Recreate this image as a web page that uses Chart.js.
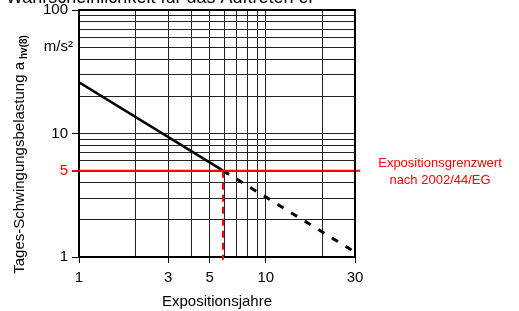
<!DOCTYPE html>
<html>
<head>
<meta charset="utf-8">
<script src="https://cdn.jsdelivr.net/npm/chart.js@4/dist/chart.umd.min.js"></script>
<style>
  html, body { margin: 0; padding: 0; background: #fff; }
  #wrap { width: 519px; height: 311px; }
</style>
</head>
<body>
<div id="wrap"><canvas id="c" width="519" height="311"></canvas></div>
<script>
// Werte
const yearsSolid = [1, 5.9];
const loadSolid = [26, 5];
const yearsDashed = [5.9, 29];
const loadDashed = [5, 1.13];
const limitValue = 5;
const limitYear = 5.9;
const limitLineYears = [1, 32];

const xGridValues = [1, 2, 3, 4, 5, 6, 7, 8, 9, 10, 20, 30];
const yGridValues = [1, 2, 3, 4, 5, 6, 7, 8, 9, 10, 20, 30, 40, 50, 60, 70, 80, 90, 100];
const xTickLabels = [1, 3, 5, 10, 30];
const yTickLabels = [1, 5, 10, 100];

const FONT = 'Liberation Sans, Arial, sans-serif';
const RED = '#ff0000';

const toPoints = (xs, ys) => xs.map((x, i) => ({ x, y: ys[i] }));

// Texte außerhalb der Achsen
const extraText = {
  id: 'extraText',
  afterDraw(chart) {
    const { ctx, chartArea } = chart;
    ctx.save();
    // Rahmen oben/rechts
    ctx.strokeStyle = '#000';
    ctx.lineWidth = 2;
    ctx.beginPath();
    ctx.moveTo(chartArea.left, chartArea.top);
    ctx.lineTo(chartArea.right, chartArea.top);
    ctx.lineTo(chartArea.right, chartArea.bottom);
    ctx.stroke();

    // abgeschnittener Titel
    ctx.fillStyle = '#000';
    ctx.font = '18px ' + FONT;
    ctx.textAlign = 'left';
    ctx.textBaseline = 'alphabetic';
    ctx.fillText('Wahrscheinlichkeit für das Auftreten ei', 6, 3);

    // Einheit
    ctx.font = '15px ' + FONT;
    ctx.textAlign = 'right';
    ctx.textBaseline = 'middle';
    ctx.fillText('m/s\u00b2', 73, 47);

    // Achsentitel y
    ctx.save();
    ctx.translate(20, 155);
    ctx.rotate(-Math.PI / 2);
    const main = 'Tages-Schwingungsbelastung a';
    const sub = 'hv(8)';
    ctx.font = '15px ' + FONT;
    const w1 = ctx.measureText(main).width + 3;
    ctx.font = '10px ' + FONT;
    const w2 = ctx.measureText(sub).width;
    const start = -(w1 + w2) / 2;
    ctx.textAlign = 'left';
    ctx.textBaseline = 'middle';
    ctx.font = '15px ' + FONT;
    ctx.fillText(main, start, 0);
    ctx.font = 'bold 10px ' + FONT;
    ctx.fillText(sub, start + w1, 4);
    ctx.restore();

    // Grenzwert-Beschriftung
    ctx.fillStyle = RED;
    ctx.font = '13px ' + FONT;
    ctx.textAlign = 'center';
    ctx.fillText('Expositionsgrenzwert', 440, 163);
    ctx.fillText('nach 2002/44/EG', 440, 180);
    ctx.restore();
  }
};

new Chart(document.getElementById('c'), {
  type: 'scatter',
  data: {
    datasets: [
      {
        data: toPoints(limitLineYears, limitLineYears.map(() => limitValue)),
        showLine: true,
        borderColor: RED,
        borderWidth: 2,
        pointRadius: 0,
        clip: false
      },
      {
        data: toPoints([limitYear, limitYear], [limitValue, 0.95]),
        showLine: true,
        borderColor: RED,
        borderWidth: 2,
        borderDash: [7, 5],
        pointRadius: 0,
        clip: false
      },
      {
        data: toPoints(yearsSolid, loadSolid),
        showLine: true,
        borderColor: '#000',
        borderWidth: 2.5,
        pointRadius: 0
      },
      {
        data: toPoints(yearsDashed, loadDashed),
        showLine: true,
        borderColor: '#000',
        borderWidth: 3,
        borderDash: [7, 9],
        pointRadius: 0
      }
    ]
  },
  options: {
    responsive: false,
    animation: false,
    layout: { padding: { top: 10, right: 164, left: 0, bottom: 0 } },
    plugins: { legend: { display: false }, tooltip: { enabled: false } },
    scales: {
      x: {
        type: 'logarithmic',
        min: 1,
        max: 30,
        afterBuildTicks: (scale) => { scale.ticks = xGridValues.map(v => ({ value: v })); },
        afterFit: (scale) => { scale.height = 54; },
        border: { color: '#000', width: 2 },
        grid: {
          color: '#222',
          lineWidth: 1,
          tickLength: 6,
          tickColor: (ctx) => xTickLabels.includes(ctx.tick && ctx.tick.value) ? '#000' : 'rgba(0,0,0,0)'
        },
        ticks: {
          autoSkip: false,
          maxRotation: 0,
          padding: 6,
          color: '#000',
          font: { family: FONT, size: 15 },
          callback: (v) => xTickLabels.includes(v) ? String(v) : ''
        },
        title: {
          display: true,
          text: 'Expositionsjahre',
          color: '#000',
          font: { family: FONT, size: 15 },
          padding: { top: 8, bottom: 0 }
        }
      },
      y: {
        type: 'logarithmic',
        min: 1,
        max: 100,
        afterBuildTicks: (scale) => { scale.ticks = yGridValues.map(v => ({ value: v })); },
        afterFit: (scale) => {
          scale.width = 79;
          scale.paddingTop = 0;
          scale.paddingBottom = 0;
        },
        border: { color: '#000', width: 2 },
        grid: {
          color: (ctx) => ctx.tick && ctx.tick.value === limitValue ? RED : '#222',
          lineWidth: (ctx) => ctx.tick && ctx.tick.value === limitValue ? 2 : 1,
          tickLength: 7,
          tickColor: (ctx) => {
            const v = ctx.tick && ctx.tick.value;
            if (v === limitValue) return RED;
            return yTickLabels.includes(v) ? '#000' : 'rgba(0,0,0,0)';
          }
        },
        ticks: {
          autoSkip: false,
          padding: 4,
          color: (ctx) => ctx.tick && ctx.tick.value === limitValue ? RED : '#000',
          font: { family: FONT, size: 15 },
          callback: (v) => yTickLabels.includes(v) ? String(v) : ''
        }
      }
    }
  },
  plugins: [extraText]
});
</script>
</body>
</html>
